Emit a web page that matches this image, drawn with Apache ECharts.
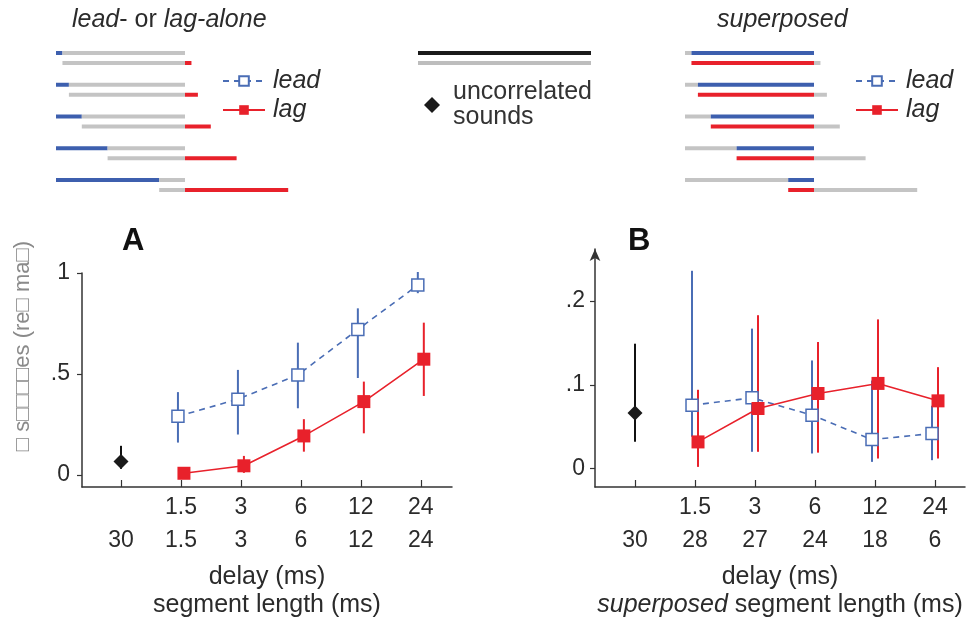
<!DOCTYPE html>
<html>
<head>
<meta charset="utf-8">
<script src="https://cdn.jsdelivr.net/npm/echarts@6/dist/echarts.min.js"></script>
<style>
html, body { margin: 0; background: #fff; }
#main { width: 974px; height: 623px; }
</style>
</head>
<body>
<div id="main"></div>
<script>
// tick labels
var delayLabels = ['', '1.5', '3', '6', '12', '24'];
var lengthLabelsA = ['30', '1.5', '3', '6', '12', '24'];
var lengthLabelsB = ['30', '28', '27', '24', '18', '6'];

// schematic (ms)
var delays = [1.5, 3, 6, 12, 24];
var soundLen = 30;
var refLen = 40;

// panel A : lead- or lag-alone
var leadA = [0.29, 0.375, 0.495, 0.72, 0.94];
var leadALo = [0.16, 0.20, 0.33, 0.48, 0.90];
var leadAHi = [0.41, 0.52, 0.655, 0.825, 1.005];
var lagA = [0.008, 0.045, 0.193, 0.363, 0.573];
var lagALo = [0.0, 0.01, 0.115, 0.206, 0.391];
var lagAHi = [0.02, 0.094, 0.276, 0.462, 0.754];
var uncorrA = [0.066, 0.03, 0.144];

// panel B : superposed
var leadB = [0.0756, 0.0844, 0.0637, 0.0346, 0.0418];
var leadBLo = [0.038, 0.020, 0.018, 0.008, 0.010];
var leadBHi = [0.236, 0.167, 0.129, 0.105, 0.075];
var lagB = [0.0318, 0.0717, 0.0896, 0.1016, 0.0808];
var lagBLo = [0.002, 0.020, 0.019, 0.012, 0.012];
var lagBHi = [0.094, 0.183, 0.151, 0.178, 0.121];
var uncorrB = [0.0664, 0.032, 0.149];

var BLUE = '#4a6db5';
var RED = '#e8212b';
var GRAY = '#c4c4c4';
var SBLUE = '#3d5fae';
var FONT = '"Liberation Sans", Arial, sans-serif';
var TXT = '#2b2b2b';
var OFF = 0.05;      // small side shift of lead / lag markers
var SUB = 0.315;     // second line of a schematic pair

var myChart = echarts.init(document.getElementById('main'));

function renderErr(params, api){
	var x = api.value(0);
	var p0 = api.coord([x, api.value(1)]);
	var p1 = api.coord([x, api.value(2)]);
	return {
		type : 'line',
		shape : { x1 : p0[0], y1 : p0[1], x2 : p1[0], y2 : p1[1] },
		style : { stroke : api.visual('color'), lineWidth : 2 }
	};
}

function renderSeg(params, api){
	var y = api.value(2);
	var p0 = api.coord([api.value(0), y]);
	var p1 = api.coord([api.value(1), y]);
	return {
		type : 'line',
		shape : { x1 : p0[0], y1 : p0[1], x2 : p1[0], y2 : p1[1] },
		style : { stroke : api.visual('color'), lineWidth : 4 }
	};
}

function pts(vals, off){
	return vals.map(function(v, i){ return [i + 1 + off, v]; });
}
function errs(lo, hi, off){
	return lo.map(function(v, i){ return [i + 1 + off, v, hi[i]]; });
}
function seg(x0, x1, y, c){
	return { value : [x0, x1, y], itemStyle : { color : c } };
}

// schematic segments built from the delays
var aloneSegs = [];
var superSegs = [];
delays.forEach(function(d, k){
	aloneSegs.push(seg(0, d, k, SBLUE));
	aloneSegs.push(seg(d, soundLen, k, GRAY));
	aloneSegs.push(seg(d, soundLen, k + SUB, GRAY));
	aloneSegs.push(seg(soundLen, soundLen + d, k + SUB, RED));
	superSegs.push(seg(0, d, k, GRAY));
	superSegs.push(seg(d, soundLen, k, SBLUE));
	superSegs.push(seg(d, soundLen, k + SUB, RED));
	superSegs.push(seg(soundLen, soundLen + d, k + SUB, GRAY));
});
var refSegs = [seg(0, refLen, 0, '#1a1a1a'), seg(0, refLen, SUB, '#bdbdbd')];

function yFmt(v){
	return v === 0 ? '0' : String(v).replace(/^0/, '');
}

function xAxisOf(idx, lens, left){
	return {
		gridIndex : idx, type : 'value', min : left, max : 5.52,
		axisLine : { onZero : false, lineStyle : { color : '#333', width : 1.5 } },
		axisTick : { inside : true, length : 7, customValues : [0, 1, 2, 3, 4, 5], lineStyle : { color : '#333', width : 1.2 } },
		axisLabel : {
			customValues : [0, 1, 2, 3, 4, 5], margin : 4,
			fontFamily : FONT, fontSize : 23, color : TXT, lineHeight : 33,
			formatter : function(v){ return delayLabels[v] + '\n' + lens[v]; }
		},
		splitLine : { show : false },
		nameLocation : 'middle', nameGap : 76,
		nameTextStyle : { fontFamily : FONT, fontSize : 25, color : TXT, lineHeight : 28,
			rich : { i : { fontFamily : FONT, fontSize : 25, color : TXT, fontStyle : 'italic', lineHeight : 28 } } }
	};
}

function hiddenAxis(idx, min, max, inv){
	return { gridIndex : idx, type : 'value', min : min, max : max, inverse : !!inv, show : false, splitLine : { show : false } };
}

var xA = xAxisOf(0, lengthLabelsA, -0.65);
xA.name = 'delay (ms)\nsegment length (ms)';
var xB = xAxisOf(1, lengthLabelsB, -0.667);
xB.max = 5.5;
xB.name = 'delay (ms)\n{i|superposed} segment length (ms)';

var yAxisA = {
	gridIndex : 0, type : 'value', min : -0.06, max : 1,
	axisLine : { show : true, onZero : false, lineStyle : { color : '#333', width : 1.5 } },
	axisTick : { show : true, length : 5, customValues : [0, 0.5, 1], lineStyle : { color : '#333', width : 1.2 } },
	axisLabel : { customValues : [0, 0.5, 1], formatter : yFmt, fontFamily : FONT, fontSize : 23, color : TXT, margin : 12 },
	splitLine : { show : false }
};
var yAxisB = {
	gridIndex : 1, type : 'value', min : -0.022, max : 0.262,
	axisLine : { show : true, onZero : false, symbol : ['none', 'arrow'], symbolSize : [8, 12], lineStyle : { color : '#333', width : 1.5 } },
	axisTick : { show : true, length : 5, customValues : [0, 0.1, 0.2], lineStyle : { color : '#333', width : 1.2 } },
	axisLabel : { customValues : [0, 0.1, 0.2], formatter : yFmt, fontFamily : FONT, fontSize : 23, color : TXT, margin : 10 },
	splitLine : { show : false }
};

var option = {
	animation : false,
	backgroundColor : '#fff',
	grid : [
		{ left : 82, top : 273, width : 370, height : 214 },
		{ left : 595, top : 249, width : 370, height : 238 },
		{ left : 56, top : 53, width : 258, height : 137 },
		{ left : 418, top : 53, width : 173, height : 137 },
		{ left : 685, top : 53, width : 258, height : 137 }
	],
	xAxis : [
		xA, xB,
		hiddenAxis(2, 0, 60), hiddenAxis(3, 0, refLen), hiddenAxis(4, 0, 60)
	],
	yAxis : [
		yAxisA, yAxisB,
		hiddenAxis(2, 0, 4.315, true), hiddenAxis(3, 0, 4.315, true), hiddenAxis(4, 0, 4.315, true)
	],
	legend : [
		{ data : ['lead', 'lag'], orient : 'vertical', left : 217, top : 62, itemWidth : 42, itemHeight : 12, itemGap : 1,
			selectedMode : false, textStyle : { fontFamily : FONT, fontSize : 25, fontStyle : 'italic', color : TXT, lineHeight : 28, padding : [0, 0, 0, 3] } },
		{ data : ['lead', 'lag'], orient : 'vertical', left : 850, top : 62, itemWidth : 42, itemHeight : 12, itemGap : 1,
			selectedMode : false, textStyle : { fontFamily : FONT, fontSize : 25, fontStyle : 'italic', color : TXT, lineHeight : 28, padding : [0, 0, 0, 3] } },
		{ data : ['uncorrelated\nsounds'], left : 419, top : 75, itemWidth : 16, itemHeight : 16,
			selectedMode : false, textStyle : { fontFamily : FONT, fontSize : 25, color : '#333', lineHeight : 25, padding : [0, 0, 0, 8] } }
	],
	graphic : [
		{ type : 'text', left : 122, top : 226, style : { text : 'A', font : 'bold 31px ' + FONT, fill : '#111' } },
		{ type : 'text', left : 628, top : 226, style : { text : 'B', font : 'bold 31px ' + FONT, fill : '#111' } },
		{ type : 'text', left : 72, top : 8, style : { text : '{i|lead}{n|- or }{i|lag-alone}',
			rich : { i : { font : 'italic 25px ' + FONT, fill : TXT }, n : { font : '25px ' + FONT, fill : TXT } } } },
		{ type : 'text', left : 717, top : 8, style : { text : 'superposed', font : 'italic 25px ' + FONT, fill : TXT } },
		{ type : 'text', x : 23, y : 346, rotation : Math.PI / 2,
			style : { text : '\u25a1 s\u25a1\u25a1\u25a1\u25a1es (re\u25a1 ma\u25a1)', font : '22px ' + FONT, fill : '#8a8a8a', align : 'center', verticalAlign : 'middle' } }
	],
	series : [
		// schematics
		{ type : 'custom', xAxisIndex : 2, yAxisIndex : 2, renderItem : renderSeg, encode : { x : [0, 1], y : 2 }, data : aloneSegs, silent : true },
		{ type : 'custom', xAxisIndex : 3, yAxisIndex : 3, renderItem : renderSeg, encode : { x : [0, 1], y : 2 }, data : refSegs, silent : true },
		{ type : 'custom', xAxisIndex : 4, yAxisIndex : 4, renderItem : renderSeg, encode : { x : [0, 1], y : 2 }, data : superSegs, silent : true },

		// error bars A
		{ type : 'custom', xAxisIndex : 0, yAxisIndex : 0, renderItem : renderErr, encode : { x : 0, y : [1, 2] }, itemStyle : { color : BLUE }, data : errs(leadALo, leadAHi, -OFF), z : 1 },
		{ type : 'custom', xAxisIndex : 0, yAxisIndex : 0, renderItem : renderErr, encode : { x : 0, y : [1, 2] }, itemStyle : { color : RED }, data : errs(lagALo, lagAHi, OFF), z : 1 },
		{ type : 'custom', xAxisIndex : 0, yAxisIndex : 0, renderItem : renderErr, encode : { x : 0, y : [1, 2] }, itemStyle : { color : '#111' }, data : [[0, uncorrA[1], uncorrA[2]]], z : 1 },
		// error bars B
		{ type : 'custom', xAxisIndex : 1, yAxisIndex : 1, renderItem : renderErr, encode : { x : 0, y : [1, 2] }, itemStyle : { color : BLUE }, data : errs(leadBLo, leadBHi, -OFF), z : 1 },
		{ type : 'custom', xAxisIndex : 1, yAxisIndex : 1, renderItem : renderErr, encode : { x : 0, y : [1, 2] }, itemStyle : { color : RED }, data : errs(lagBLo, lagBHi, OFF), z : 1 },
		{ type : 'custom', xAxisIndex : 1, yAxisIndex : 1, renderItem : renderErr, encode : { x : 0, y : [1, 2] }, itemStyle : { color : '#111' }, data : [[0, uncorrB[1], uncorrB[2]]], z : 1 },

		// means A
		{ name : 'lead', type : 'line', xAxisIndex : 0, yAxisIndex : 0, data : pts(leadA, -OFF), symbol : 'rect', symbolSize : 12,
			itemStyle : { color : '#fff', borderColor : BLUE, borderWidth : 1.5 }, lineStyle : { color : BLUE, width : 1.6, type : [6, 5] }, z : 3 },
		{ name : 'lag', type : 'line', xAxisIndex : 0, yAxisIndex : 0, data : pts(lagA, OFF), symbol : 'rect', symbolSize : 13,
			itemStyle : { color : RED }, lineStyle : { color : RED, width : 1.6 }, z : 3 },
		{ name : 'uncorrelated\nsounds', type : 'scatter', xAxisIndex : 0, yAxisIndex : 0, data : [[0, uncorrA[0]]], symbol : 'diamond', symbolSize : 15,
			itemStyle : { color : '#1a1a1a', opacity : 1 }, z : 3 },
		// means B
		{ name : 'lead', type : 'line', xAxisIndex : 1, yAxisIndex : 1, data : pts(leadB, -OFF), symbol : 'rect', symbolSize : 12,
			itemStyle : { color : '#fff', borderColor : BLUE, borderWidth : 1.5 }, lineStyle : { color : BLUE, width : 1.6, type : [6, 5] }, z : 3 },
		{ name : 'lag', type : 'line', xAxisIndex : 1, yAxisIndex : 1, data : pts(lagB, OFF), symbol : 'rect', symbolSize : 13,
			itemStyle : { color : RED }, lineStyle : { color : RED, width : 1.6 }, z : 3 },
		{ name : 'uncorrelated\nsounds', type : 'scatter', xAxisIndex : 1, yAxisIndex : 1, data : [[0, uncorrB[0]]], symbol : 'diamond', symbolSize : 15,
			itemStyle : { color : '#1a1a1a', opacity : 1 }, z : 3 }
	]
};
myChart.setOption(option);
</script>
</body>
</html>
